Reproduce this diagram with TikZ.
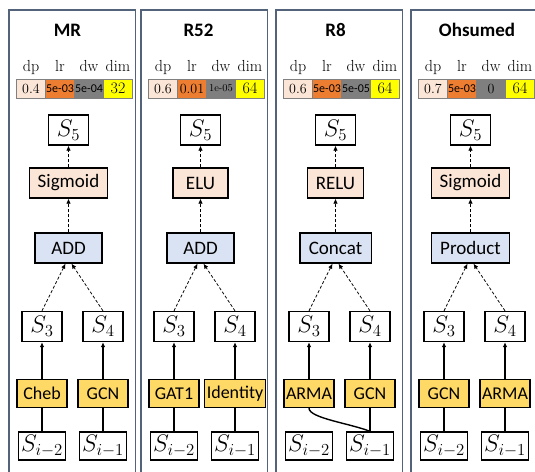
\RequirePackage{fix-cm}
\documentclass[tikz,border=0pt]{standalone}
\usepackage{fontspec}
\usepackage{tikz}
\usetikzlibrary{arrows.meta}

\newfontfamily\cali{Carlito}
\definecolor{panelc}{HTML}{536379}
\definecolor{peach}{HTML}{FBE5D6}
\definecolor{orng}{HTML}{ED7D31}
\definecolor{grayc}{HTML}{7F7F7F}
\definecolor{yel}{HTML}{FFFF00}
\definecolor{lblue}{HTML}{DAE3F3}
\definecolor{gold}{HTML}{FFD966}

\newcommand{\snum}{\cali\fontsize{12}{13}\selectfont}
\newcommand{\rnum}{\fontsize{14}{15}\selectfont}
\newcommand{\tnum}{\fontsize{10.5}{11}\selectfont}

\begin{document}
\begin{tikzpicture}[x=1pt, y=-1pt,
  panel/.style={draw=panelc, line width=1.6pt},
  titletext/.style={font=\cali\bfseries\fontsize{19}{22}\selectfont, inner sep=0pt},
  hdr/.style={font=\fontsize{16}{18}\selectfont, inner sep=0pt},
  cell/.style={draw=gray, line width=0.6pt, minimum width=29pt, minimum height=19pt, inner sep=0pt},
  box/.style={draw, line width=1.3pt, inner sep=0pt, font=\cali\fontsize{19}{22}\selectfont},
  sbox/.style={draw, line width=1.3pt, minimum width=40pt, minimum height=30pt, inner sep=0pt, font=\fontsize{24}{28}\selectfont},
  inbox/.style={sbox, minimum width=47pt, minimum height=28pt},
  actbox/.style={box, fill=peach, minimum width=55pt, minimum height=30pt, inner xsep=8pt},
  combbox/.style={box, fill=lblue, minimum width=67pt, minimum height=30pt, inner xsep=9pt},
  opbox/.style={box, fill=gold, minimum width=50pt, minimum height=28pt, inner xsep=2pt, font=\cali\fontsize{18}{21}\selectfont},
  darrow/.style={-{Latex[length=5pt,width=4.5pt]}, dash pattern=on 3pt off 2pt, line width=0.8pt},
  sarrow/.style={-{Latex[length=5pt,width=4.5pt]}, line width=1.4pt},
  wire/.style={line width=1.4pt}]
  \useasboundingbox (0,0) rectangle (535,471);
  \clip (0,0) rectangle (535,471);

  % 4つのデータセット
  \foreach \L/\tx/\ttl/\dpv/\lrv/\dwv/\dimv/\act/\comb/\opa/\opb/\i in {
    9/58.5/MR/0.4/{\snum 5e-03}/{\snum 5e-04}/32/Sigmoid/ADD/Cheb/GCN/1,
    141/57.5/R52/0.6/{\rnum 0.01}/{\tnum 1e-05}/64/ELU/ADD/GAT1/Identity/2,
    276/59.5/R8/0.6/{\snum 5e-03}/{\snum 5e-05}/64/RELU/Concat/ARMA/GCN/3,
    411/66/Ohsumed/0.7/{\snum 5e-03}/{\rnum 0}/64/Sigmoid/Product/GCN/ARMA/4} {
    % 枠とタイトル
    \draw[panel] (\L,10) rectangle ++(126.5,480);
    \node[titletext, anchor=base] (t-\i) at (\L+\tx,36) {\ttl};

    % ハイパーパラメータ
    \foreach \h [count=\k] in {dp,lr,dw,dim}
      \node[hdr, anchor=base] (h\k-\i) at (\L+29*\k-7,71) {\h};
    \node[cell, fill=peach] (c1-\i) at (\L+22,88.5) {\rnum\dpv};
    \node[cell, fill=orng] (c2-\i) at (\L+51,88.5) {\lrv};
    \node[cell, fill=grayc] (c3-\i) at (\L+80,88.5) {\dwv};
    \node[cell, fill=yel] (c4-\i) at (\L+109,88.5) {\fontsize{16}{17}\selectfont\dimv};

    % セル
    \node[sbox] (s5-\i) at (\L+59.5,130) {$S_5$};
    \node[actbox] (a-\i) at (\L+59.5,183) {\act};
    \node[combbox] (m-\i) at (\L+59.5,248) {\comb};
    \node[sbox] (s3-\i) at (\L+33,326.5) {$S_3$};
    \node[sbox] (s4-\i) at (\L+94,326.5) {$S_4$};
    \node[opbox] (o3-\i) at (\L+33,393.5) {\opa};
    \node[opbox] (o4-\i) at (\L+94,393.5) {\opb};
    \node[inbox] (x2-\i) at (\L+33,446) {$S_{i-2}$};
    \node[inbox] (x1-\i) at (\L+94,446) {$S_{i-1}$};

    % 接続
    \draw[darrow] (a-\i) -- (s5-\i);
    \draw[darrow] (m-\i) -- (a-\i);
    \draw[darrow] (s3-\i.north) -- ([xshift=-3pt]m-\i.south);
    \draw[darrow] (s4-\i.north) -- ([xshift=3pt]m-\i.south);
    \draw[sarrow] (o3-\i) -- (s3-\i);
    \draw[sarrow] (o4-\i) -- (s4-\i);
    \draw[wire] (x1-\i) -- (o4-\i);
  }

  % 左の入力
  \draw[wire] (x2-1) -- (o3-1);
  \draw[wire] (x2-2) -- (o3-2);
  \draw[wire] (x2-4) -- (o3-4);
  \draw[wire] (o3-3.south) .. controls +(0,10) and +(-20,-8) .. (x1-3.north);
\end{tikzpicture}
\end{document}
